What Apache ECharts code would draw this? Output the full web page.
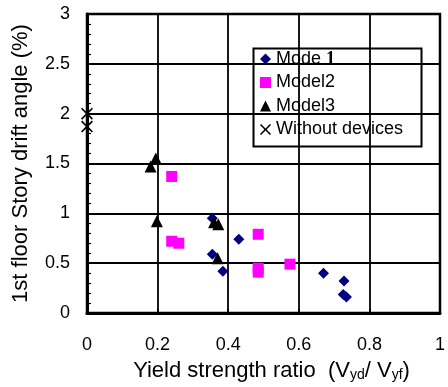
<!DOCTYPE html>
<html>
<head>
<meta charset="utf-8">
<script src="https://cdn.jsdelivr.net/npm/echarts@6/dist/echarts.min.js"></script>
<style>html,body{margin:0;padding:0;background:#fff}#c{width:448px;height:387px}</style>
</head>
<body>
<div id="c"></div>
<script>
// Data
var seriesNames = ['Mode 1', 'Model2', 'Model3', 'Without devices'];
var mode1 = [[0.355, 0.95], [0.43, 0.74], [0.355, 0.59], [0.385, 0.42], [0.67, 0.40], [0.728, 0.32], [0.726, 0.185], [0.735, 0.16]];
var model2 = [[0.24, 1.37], [0.24, 0.72], [0.26, 0.70], [0.485, 0.79], [0.485, 0.45], [0.485, 0.41], [0.575, 0.49]];
var model3 = [[0.195, 1.55], [0.18, 1.47], [0.198, 0.92], [0.36, 0.91], [0.372, 0.89], [0.37, 0.55]];
var without = [[0, 2.0], [0, 1.87]];
var xTicks = [0, 0.2, 0.4, 0.6, 0.8, 1];
var yTicks = [0, 0.5, 1, 1.5, 2, 2.5, 3];

var FONT = '"Liberation Sans", Arial, sans-serif';
var crossPath = 'path://M0,1L1,0L5,4L9,0L10,1L6,5L10,9L9,10L5,6L1,10L0,9L4,5Z';

var chart = echarts.init(document.getElementById('c'), null, {renderer: 'canvas'});
chart.setOption({
  animation: false,
  backgroundColor: '#fff',
  grid: {left: 87, right: 3, top: 14, bottom: 69, show: true, borderColor: '#000', borderWidth: 2.5},
  xAxis: {
    type: 'value', min: xTicks[0], max: xTicks[xTicks.length - 1], interval: 0.2,
    axisLine: {show: true, onZero: false, lineStyle: {color: '#000', width: 3}},
    axisTick: {show: true, inside: true, length: 4, lineStyle: {color: '#000', width: 1.5}},
    axisLabel: {color: '#000', fontSize: 18, fontFamily: FONT, margin: 23},
    splitLine: {show: true, lineStyle: {color: '#000', width: 1.8}},
    name: '{t|Yield strength ratio  (V}{s|yd}{t|/ V}{s|yf}{t|)}',
    nameLocation: 'middle', nameGap: 45,
    nameTextStyle: {
      padding: [0, 0, 0, 16],
      rich: {
        t: {fontSize: 22, fontFamily: FONT, color: '#000', lineHeight: 24, verticalAlign: 'bottom'},
        s: {fontSize: 14, fontFamily: FONT, color: '#000', lineHeight: 18, verticalAlign: 'bottom'}
      }
    }
  },
  yAxis: {
    type: 'value', min: yTicks[0], max: yTicks[yTicks.length - 1], interval: 0.5,
    axisLine: {show: true, onZero: false, lineStyle: {color: '#000', width: 3}},
    axisTick: {show: true, inside: true, length: 5, lineStyle: {color: '#000', width: 1.5}},
    minorTick: {show: true, splitNumber: 5, length: 4, lineStyle: {color: '#000', width: 1.2}},
    axisLabel: {color: '#000', fontSize: 18, fontFamily: FONT, margin: 17},
    splitLine: {show: true, lineStyle: {color: '#000', width: 1.8}},
    name: '1st floor Story drift angle (%)',
    nameLocation: 'middle', nameGap: 55, nameRotate: 90,
    nameTextStyle: {fontSize: 22, fontFamily: FONT, color: '#000'}
  },
  legend: {
    orient: 'vertical', left: 251, top: 48, padding: [2, 6, 2, 9],
    itemWidth: 11, itemHeight: 11, itemGap: 5.5,
    data: seriesNames,
    formatter: function (n) { return n === 'Mode 1' ? 'Mode {b|1}' : n; },
    textStyle: {
      fontSize: 18, fontFamily: FONT, color: '#000', lineHeight: 18,
      rich: {b: {fontSize: 18, fontFamily: '"Liberation Serif", serif', fontWeight: 'bold', color: '#000'}}
    }
  },
  graphic: [{
    type: 'rect', left: 251, top: 46, z: 100, silent: true,
    shape: {width: 168, height: 98},
    style: {fill: 'none', stroke: '#000', lineWidth: 2}
  }],
  series: [
    {name: seriesNames[0], type: 'scatter', data: mode1, symbol: 'diamond', symbolSize: 11, clip: false,
     itemStyle: {color: '#000080', opacity: 1}},
    {name: seriesNames[1], type: 'scatter', data: model2, symbol: 'rect', symbolSize: 11, clip: false,
     itemStyle: {color: '#ff00ff', opacity: 1}},
    {name: seriesNames[2], type: 'scatter', data: model3, symbol: 'triangle', symbolSize: 12, clip: false,
     itemStyle: {color: '#000', opacity: 1}},
    {name: seriesNames[3], type: 'scatter', data: without, symbol: crossPath, symbolSize: 12, clip: false,
     itemStyle: {color: '#000', opacity: 1}}
  ]
});
</script>
</body>
</html>
